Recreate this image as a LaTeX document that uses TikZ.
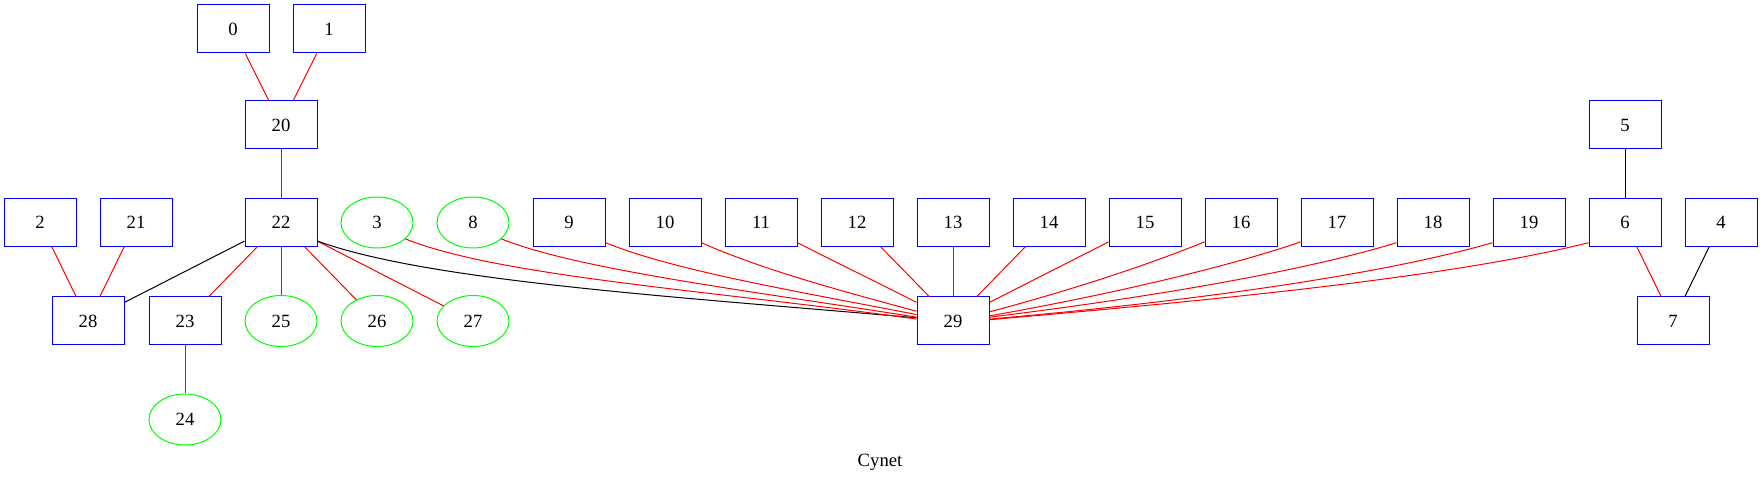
\documentclass[tikz,border=0pt]{standalone}
\usepackage{fontspec}
\setmainfont{Liberation Serif}
\usetikzlibrary{shapes.geometric}
\tikzset{hostbox/.style={shape=rectangle, draw=blue, line width=1pt, minimum width=72pt, minimum height=48pt, inner sep=0pt, font=\fontsize{18.67}{22}\selectfont}}
\tikzset{hostoval/.style={shape=ellipse, draw=green, line width=1pt, minimum width=72pt, minimum height=51pt, inner sep=0pt, font=\fontsize{18.67}{22}\selectfont}}
\tikzset{redlink/.style={draw=red, line width=1pt}}
\tikzset{blacklink/.style={draw=black, line width=1pt}}

\begin{document}
\begin{tikzpicture}[x=1pt, y=1pt]
		\useasboundingbox (0,0) rectangle (1763,487);
		\node[hostbox] (n0) at (233,458) {0};
		\node[hostbox] (n1) at (329,458) {1};
		\node[hostbox] (n20) at (281,362) {20};
		\node[hostbox] (n5) at (1625,362) {5};
		\node[hostbox] (n2) at (40,264.5) {2};
		\node[hostbox] (n21) at (136,264.5) {21};
		\node[hostbox] (n22) at (281,264.5) {22};
		\node[hostoval] (n3) at (377,264.5) {3};
		\node[hostoval] (n8) at (473,264.5) {8};
		\node[hostbox] (n9) at (569,264.5) {9};
		\node[hostbox] (n10) at (665,264.5) {10};
		\node[hostbox] (n11) at (761,264.5) {11};
		\node[hostbox] (n12) at (857,264.5) {12};
		\node[hostbox] (n13) at (953,264.5) {13};
		\node[hostbox] (n14) at (1049,264.5) {14};
		\node[hostbox] (n15) at (1145,264.5) {15};
		\node[hostbox] (n16) at (1241,264.5) {16};
		\node[hostbox] (n17) at (1337,264.5) {17};
		\node[hostbox] (n18) at (1433,264.5) {18};
		\node[hostbox] (n19) at (1529,264.5) {19};
		\node[hostbox] (n6) at (1625,264.5) {6};
		\node[hostbox] (n4) at (1721,264.5) {4};
		\node[hostbox] (n28) at (88,166) {28};
		\node[hostbox] (n23) at (185,166) {23};
		\node[hostoval] (n25) at (281,166) {25};
		\node[hostoval] (n26) at (377,166) {26};
		\node[hostoval] (n27) at (473,166) {27};
		\node[hostbox] (n29) at (953,166) {29};
		\node[hostbox] (n7) at (1673,166) {7};
		\node[hostoval] (n24) at (185,67.5) {24};
		\node[anchor=base, font=\fontsize{18.67}{22}\selectfont] (title) at (880,20.3) {Cynet};
		\path [redlink] (n0) edge (n20);
		\path [redlink] (n1) edge (n20);
		\path [redlink] (n20) edge (n22);
		\path [redlink] (n2) edge (n28);
		\path [redlink] (n21) edge (n28);
		\path [blacklink] (n22) edge (n28);
		\path [redlink] (n22) edge (n23);
		\path [redlink] (n22) edge (n25);
		\path [redlink] (n22) edge (n26);
		\path [redlink] (n22) edge (n27);
		\path [redlink] (n23) edge (n24);
		\path [blacklink] (n22.-27) edge[out=-20, in=175, out looseness=0.5] (n29.175);
		\path [redlink] (n3.-30) edge[out=-22, in=172, out looseness=0.5] (n29.177);
		\path [redlink] (n8.-30) edge[out=-22, in=171, out looseness=0.5] (n29.174);
		\path [redlink] (n9.-29) edge[out=-22, in=169, out looseness=0.6] (n29.170);
		\path [redlink] (n10.-29) edge[out=-24, in=165, out looseness=0.7] (n29.165);
		\path [redlink] (n11.-29) edge[out=-27, in=153] (n29.153);
		\path [redlink] (n12) edge (n29);
		\path [redlink] (n13) edge (n29);
		\path [redlink] (n14) edge (n29);
		\path [redlink] (n15.208) edge[out=207, in=27] (n29.27);
		\path [redlink] (n16.208) edge[out=202, in=15, out looseness=0.7] (n29.14);
		\path [redlink] (n17.208) edge[out=199, in=10, out looseness=0.6] (n29.8);
		\path [redlink] (n18.209) edge[out=197, in=7, out looseness=0.6] (n29.6);
		\path [redlink] (n19.209) edge[out=196, in=5, out looseness=0.6] (n29.3);
		\path [redlink] (n6.209) edge[out=194, in=5, out looseness=0.6] (n29.2);
		\path [blacklink] (n5) edge (n6);
		\path [redlink] (n6) edge (n7);
		\path [blacklink] (n4) edge (n7);
	\end{tikzpicture}
\end{document}
